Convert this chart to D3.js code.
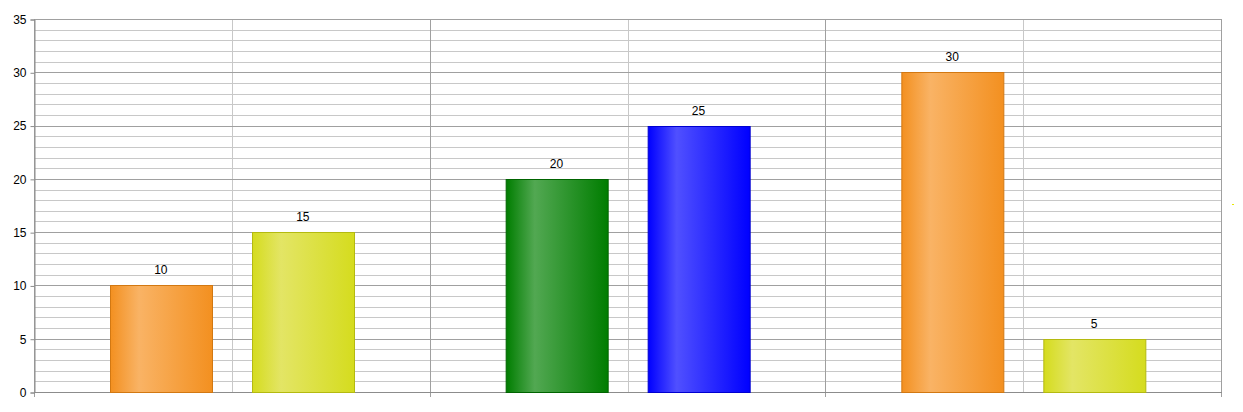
<!DOCTYPE html>
<html><head><meta charset="utf-8">
<script src="https://cdn.jsdelivr.net/npm/d3@7"></script>
<style>body{margin:0;background:#fff;}svg{display:block;}</style>
</head><body>
<svg id="c" width="1243" height="412"></svg>
<script>
const categories = ["Group 1", "Group 2", "Group 3"];
const subKeys = ["a", "b"];
const values = [[10, 15], [20, 25], [30, 5]];
const barColors = [["#F39020", "#D5DC1E"], ["#007D00", "#0000FF"], ["#F39020", "#D5DC1E"]];
const barLights = [["#F9B365", "#E3E565"], ["#52A852", "#5050FF"], ["#F9B365", "#E3E565"]];
const barStrokes = [["#D27812", "#B4BA10"], ["#006400", "#0000D0"], ["#D27812", "#B4BA10"]];
const yTicks = [0, 5, 10, 15, 20, 25, 30, 35];

const svg = d3.select("#c");
const L = 34, R = 1221, T = 19, B = 392;
const x = d3.scaleBand().domain(categories).range([L, R]).padding(0);
const xs = d3.scaleBand().domain(subKeys).range([0, x.bandwidth()]).paddingInner(0.2817).paddingOuter(0.534);
const y = d3.scaleLinear().domain([0, 35]).range([B, T]);

const defs = svg.append("defs");
values.forEach((g, gi) => g.forEach((v, si) => {
  const grad = defs.append("linearGradient").attr("id", `g${gi}_${si}`).attr("x1", 0).attr("x2", 1).attr("y1", 0).attr("y2", 0);
  grad.append("stop").attr("offset", "0%").attr("stop-color", barColors[gi][si]);
  grad.append("stop").attr("offset", "28%").attr("stop-color", barLights[gi][si]);
  grad.append("stop").attr("offset", "100%").attr("stop-color", barColors[gi][si]);
}));

// minor horizontal grid
const minor = d3.range(0, 36, 1).filter(d => d % 5 !== 0);
svg.append("g").selectAll("line").data(minor).join("line")
  .attr("x1", L).attr("x2", R).attr("y1", d => Math.round(y(d)) + 0.5).attr("y2", d => Math.round(y(d)) + 0.5)
  .attr("stroke", "#C8C8C8").attr("stroke-width", 1);
// vertical minor grid (group centers)
svg.append("g").selectAll("line").data(categories).join("line")
  .attr("x1", d => Math.round(x(d) + x.bandwidth() / 2) + 0.5).attr("x2", d => Math.round(x(d) + x.bandwidth() / 2) + 0.5)
  .attr("y1", T).attr("y2", B).attr("stroke", "#C8C8C8");
// major horizontal
svg.append("g").selectAll("line").data(yTicks).join("line")
  .attr("x1", L).attr("x2", R).attr("y1", d => Math.round(y(d)) + 0.5).attr("y2", d => Math.round(y(d)) + 0.5)
  .attr("stroke", "#A0A0A0");
// major vertical (group boundaries)
const bounds = categories.map(c => x(c)).concat([R]);
svg.append("g").selectAll("line").data(bounds).join("line")
  .attr("x1", d => Math.round(d) + 0.5).attr("x2", d => Math.round(d) + 0.5)
  .attr("y1", T).attr("y2", B + 5).attr("stroke", "#A0A0A0");

// y axis
const yAxis = svg.append("g").attr("transform", `translate(${L + 0.5},0.5)`)
  .call(d3.axisLeft(y).tickValues(yTicks).tickSize(4).tickPadding(4));
yAxis.select(".domain").attr("stroke", "#8C8C8C");
yAxis.selectAll(".tick line").attr("stroke", "#8C8C8C");
yAxis.selectAll("text").attr("font-family", "Liberation Sans, Arial, sans-serif").attr("font-size", 12).attr("fill", "#000");
// x axis baseline
svg.append("line").attr("x1", L).attr("x2", R + 1).attr("y1", B + 0.5).attr("y2", B + 0.5).attr("stroke", "#8C8C8C");

// bars
const groups = svg.append("g").selectAll("g").data(values).join("g")
  .attr("transform", (d, i) => `translate(${x(categories[i])},0)`);
groups.each(function (g, gi) {
  const sel = d3.select(this);
  sel.selectAll("rect").data(g).join("rect")
    .attr("x", (v, si) => Math.round(xs(subKeys[si])) + 0.5)
    .attr("y", v => Math.round(y(v)) + 0.5)
    .attr("width", Math.round(xs.bandwidth()))
    .attr("height", v => Math.round(y(0)) - Math.round(y(v)))
    .attr("fill", (v, si) => `url(#g${gi}_${si})`)
    .attr("stroke", (v, si) => barStrokes[gi][si]).attr("stroke-width", 1);
  sel.selectAll("text").data(g).join("text")
    .attr("x", (v, si) => xs(subKeys[si]) + xs.bandwidth() / 2)
    .attr("y", v => y(v) - 11)
    .attr("text-anchor", "middle")
    .attr("font-family", "Liberation Sans, Arial, sans-serif").attr("font-size", 12).attr("fill", "#000")
    .text(v => v);
});

// tiny legend remnant dot
svg.append("rect").attr("x", 1232).attr("y", 204).attr("width", 2).attr("height", 1).attr("fill", "#E8E800");
</script>
</body></html>
